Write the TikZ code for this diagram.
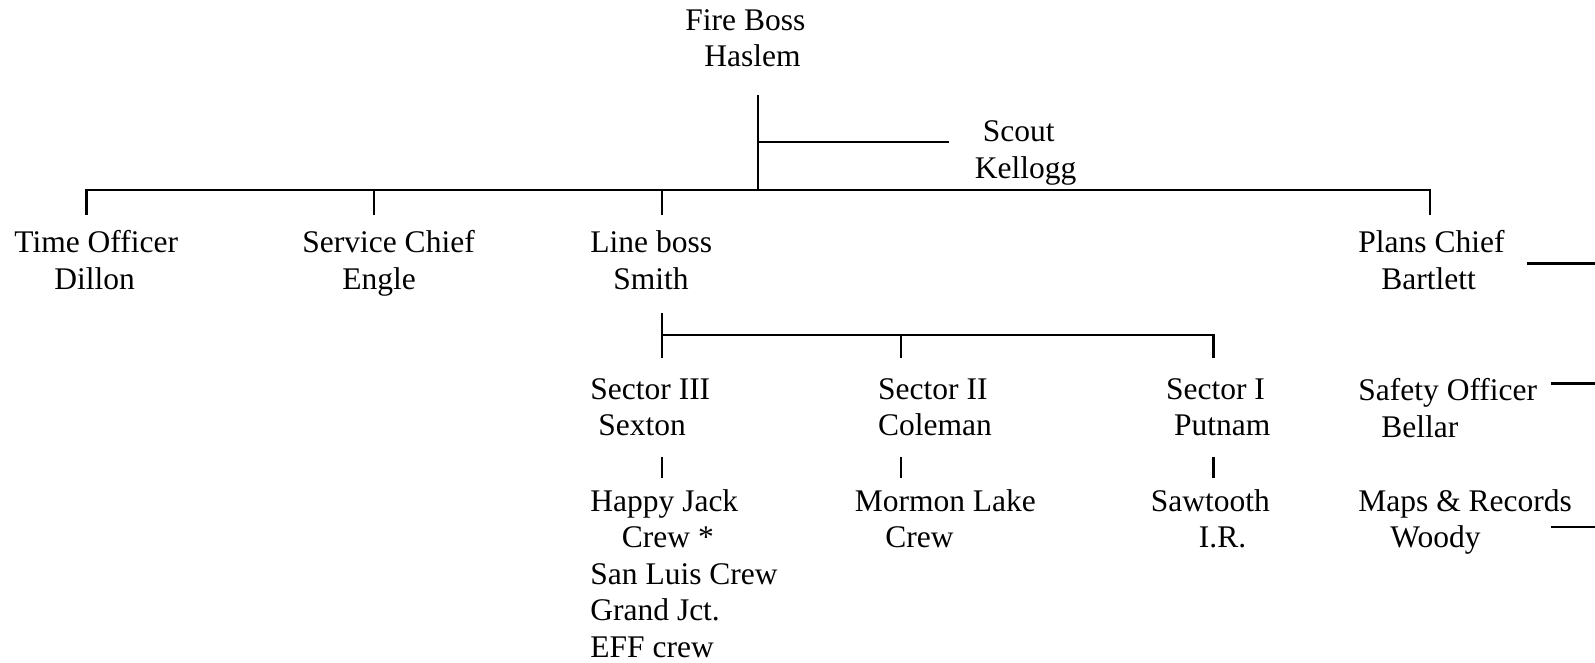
\documentclass[tikz,border=0pt]{standalone}
\usepackage{fontspec}
\setmainfont{Liberation Serif}

\tikzset{
  post/.style={anchor=north west, inner sep=0pt, align=left, yshift=10.8pt,
    font=\fontsize{15.75}{18.3}\selectfont, execute at begin node=\strut},
  tie/.style={line width=1.1pt}
}

\begin{document}
\begin{tikzpicture}[x=0.5pt, y=-0.5pt]
\useasboundingbox (0,0) rectangle (1595,663);

\node[post] (boss) at (685,30.5) {Fire Boss\\\hspace*{9.5pt}Haslem};
\node[post] (scout) at (974.5,142) {\hspace*{4pt}Scout\\Kellogg};

\node[post] (time) at (14,252) {Time Officer\\\hspace*{20pt}Dillon};
\node[post] (service) at (302,252) {Service Chief\\\hspace*{20pt}Engle};
\node[post] (line) at (590,252) {Line boss\\\hspace*{11.5pt}Smith};
\node[post] (plans) at (1358,252) {Plans Chief\\\hspace*{11.5pt}Bartlett};

\node[post] (sec3) at (590,399.6) {Sector III\\\hspace*{4pt}Sexton};
\node[post] (sec2) at (877.8,399.6) {Sector II\\Coleman};
\node[post] (sec1) at (1165.7,399.6) {Sector I\\\hspace*{4pt}Putnam};
\node[post] (safety) at (1358,399.6) {Safety Officer\\\hspace*{11.5pt}Bellar};

\node[post] (crew3) at (590,510.5) {Happy Jack\\\hspace*{15.75pt}Crew *\\San Luis Crew\\Grand Jct.\\EFF crew};
\node[post] (crew2) at (854.4,510.5) {Mormon Lake\\\hspace*{15.25pt}Crew};
\node[post] (crew1) at (1150.5,510.5) {Sawtooth\\\hspace*{24pt}I.R.};
\node[post] (maps) at (1358,510.5) {Maps \& Records\\\hspace*{16pt}Woody};

% fire boss trunk and scout
\coordinate (trunk) at (758,94.6);
\coordinate (bar) at (758,190.2);
\coordinate (scoutend) at (949,142.4);
\draw[tie] (trunk) -- (bar);
\draw[tie] (trunk |- scoutend) -- (scoutend);

% staff bar
\coordinate (timeup) at (86.5,214.6);
\coordinate (serviceup) at (374.3,214.6);
\coordinate (lineup) at (662.2,214.6);
\coordinate (plansup) at (1430,214.6);
\draw[tie] (timeup) |- (bar) -| (plansup);
\draw[tie] (serviceup) -- (serviceup |- bar);
\draw[tie] (lineup) -- (lineup |- bar);

% sectors
\coordinate (smithdown) at (662.2,313.3);
\coordinate (subbar) at (662.2,334.7);
\coordinate (sec3up) at (662.2,358);
\coordinate (sec2up) at (901.2,358);
\coordinate (sec1up) at (1213.5,358);
\draw[tie] (smithdown) -- (sec3up);
\draw[tie] (subbar) -| (sec1up);
\draw[tie] (sec2up) -- (sec2up |- subbar);

% crews
\foreach \x [count=\i] in {662.2, 901.2, 1213.5} {
  \coordinate (tick\i) at (\x,456.7);
  \draw[tie] (tick\i) -- ++(0,21.3);
}

% off to the right
\coordinate (plansout) at (1527,263.5);
\coordinate (safetyout) at (1551,383.5);
\coordinate (mapsout) at (1551,527);
\draw[tie] (plansout) -- (plansout -| 1595,0);
\draw[tie] (safetyout) -- (safetyout -| 1595,0);
\draw[tie] (mapsout) -- (mapsout -| 1595,0);
\end{tikzpicture}
\end{document}
